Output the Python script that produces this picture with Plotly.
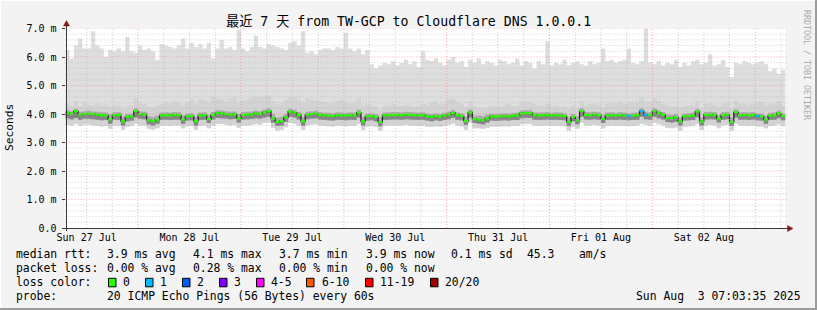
import plotly.graph_objects as go
from datetime import datetime, timedelta

W, H = 817, 310

# ---------------- data (hourly bins, ms) ----------------
view_start = datetime(2025, 7, 27, 7, 3, 35)
view_end = datetime(2025, 8, 3, 7, 3, 35)
bin_start = datetime(2025, 7, 27, 7, 0, 0)

median_ms = [
    4.05, 4.02, 4.10, 3.98, 4.00, 4.01, 4.00, 3.98, 3.96, 3.95, 3.80, 3.96,
    3.97, 3.74, 3.90, 3.92, 4.10, 4.00, 3.99, 3.78, 3.75, 3.80, 3.95, 3.96,
    3.95, 3.97, 3.96, 3.80, 3.92, 3.93, 3.75, 3.95, 3.96, 3.82, 3.97, 4.03,
    4.02, 4.00, 3.98, 3.99, 3.85, 3.97, 3.98, 3.99, 4.02, 4.00, 4.06, 4.10,
    3.85, 3.72, 3.75, 3.88, 4.08, 4.05, 3.97, 3.75, 3.98, 4.00, 4.01, 3.97,
    3.95, 3.94, 3.93, 3.96, 3.95, 3.94, 3.96, 3.95, 4.05, 3.74, 3.92, 3.93,
    3.90, 3.72, 3.95, 3.96, 3.97, 3.97, 3.96, 3.98, 3.97, 3.96, 3.95, 3.96,
    3.92, 3.90, 3.93, 3.91, 3.94, 3.98, 4.04, 3.96, 3.93, 3.76, 4.06, 3.82,
    3.80, 3.78, 3.85, 3.92, 3.91, 3.92, 3.93, 3.92, 3.94, 3.95, 4.02, 4.04,
    4.03, 3.96, 3.95, 3.96, 3.97, 3.94, 3.96, 3.95, 3.93, 3.72, 3.90, 3.78,
    4.10, 3.97, 3.96, 3.98, 3.96, 3.82, 3.95, 3.96, 3.94, 3.97, 3.95, 3.93,
    3.94, 3.96, 4.10, 3.98, 3.96, 4.10, 4.02, 3.97, 3.86, 3.85, 3.88, 3.74,
    3.92, 3.93, 3.95, 4.08, 3.74, 3.97, 3.98, 3.97, 3.84, 3.96, 3.98, 3.72,
    4.07, 3.96, 3.97, 3.95, 3.97, 3.93, 3.92, 3.80, 3.94, 3.96, 4.02, 3.93,
]

max_ms = [
    6.25, 5.95, 6.40, 6.65, 6.30, 6.30, 6.90, 6.40, 6.30, 6.00, 6.25, 6.20,
    6.30, 6.20, 6.70, 6.20, 6.15, 6.40, 6.25, 6.30, 6.20, 5.90, 6.45, 6.40,
    6.35, 6.30, 6.40, 6.65, 6.30, 6.50, 6.35, 6.45, 6.30, 6.50, 5.95, 6.30,
    6.60, 6.30, 6.35, 6.25, 6.95, 6.30, 6.20, 6.35, 6.75, 6.35, 6.30, 6.45,
    6.40, 6.35, 6.30, 6.25, 6.50, 6.55, 6.40, 6.90, 6.15, 6.20, 6.10, 6.25,
    6.30, 6.30, 6.25, 6.35, 6.30, 6.85, 6.30, 6.20, 6.30, 6.10, 6.25, 5.75,
    5.60, 5.70, 5.80, 5.75, 5.85, 5.70, 5.80, 5.90, 5.75, 5.85, 5.65, 6.20,
    5.90, 5.85, 5.95, 5.80, 5.70, 5.90, 6.00, 5.80, 5.85, 5.65, 5.90, 5.80,
    5.95, 5.75, 5.85, 5.80, 5.70, 5.90, 5.85, 5.75, 5.80, 5.95, 5.70, 5.85,
    5.80, 5.60, 5.85, 5.75, 6.55, 5.70, 5.80, 5.75, 5.90, 5.70, 5.80, 5.85,
    5.75, 5.70, 5.85, 5.75, 5.80, 6.30, 5.85, 5.90, 5.80, 5.85, 5.90, 6.30,
    5.80, 5.75, 5.85, 7.00, 5.80, 5.75, 5.85, 5.70, 5.80, 5.75, 5.90, 5.65,
    5.80, 5.70, 5.85, 5.90, 5.75, 5.80, 6.10, 5.70, 5.75, 5.90, 5.65, 5.30,
    5.80, 5.75, 5.85, 5.80, 5.75, 5.80, 5.85, 5.75, 5.50, 5.60, 5.40, 5.55,
]

hi_ms = [
    4.35, 4.30, 4.45, 4.28, 4.40, 4.32, 4.30, 4.38, 4.28, 4.33, 4.25, 4.30,
    4.30, 4.20, 4.28, 4.32, 4.55, 4.40, 4.35, 4.25, 4.22, 4.30, 4.35, 4.40,
    4.38, 4.45, 4.40, 4.30, 4.42, 4.50, 4.35, 4.55, 4.48, 4.40, 4.60, 4.55,
    4.50, 4.45, 4.55, 4.60, 4.40, 4.48, 4.52, 4.55, 4.60, 4.58, 4.62, 4.65,
    4.45, 4.35, 4.40, 4.50, 4.60, 4.58, 4.50, 4.40, 4.55, 4.50, 4.48, 4.45,
    4.42, 4.38, 4.40, 4.45, 4.50, 4.42, 4.38, 4.40, 4.55, 4.30, 4.35, 4.30,
    4.25, 4.15, 4.30, 4.28, 4.35, 4.30, 4.28, 4.32, 4.30, 4.25, 4.28, 4.35,
    4.30, 4.40, 4.45, 4.35, 4.38, 4.50, 4.55, 4.40, 4.35, 4.25, 4.45, 4.28,
    4.22, 4.20, 4.25, 4.30, 4.28, 4.25, 4.30, 4.35, 4.28, 4.30, 4.40, 4.42,
    4.40, 4.35, 4.30, 4.32, 4.35, 4.28, 4.30, 4.25, 4.28, 4.20, 4.30, 4.22,
    4.45, 4.30, 4.35, 4.38, 4.32, 4.25, 4.35, 4.40, 4.38, 4.45, 4.35, 4.40,
    4.40, 4.45, 4.60, 4.42, 4.40, 4.55, 4.45, 4.35, 4.30, 4.25, 4.28, 4.22,
    4.28, 4.30, 4.32, 4.45, 4.20, 4.35, 4.38, 4.32, 4.25, 4.35, 4.40, 4.20,
    4.45, 4.35, 4.38, 4.30, 4.35, 4.40, 4.42, 4.30, 4.35, 4.38, 4.45, 4.30,
]

q3_ms = [
    4.14, 4.10, 4.18, 4.08, 4.10, 4.12, 4.09, 4.08, 4.06, 4.05, 3.98, 4.06,
    4.07, 3.90, 4.00, 4.02, 4.20, 4.10, 4.08, 3.92, 3.90, 3.95, 4.05, 4.06,
    4.05, 4.07, 4.06, 3.95, 4.02, 4.03, 3.90, 4.05, 4.06, 3.96, 4.07, 4.13,
    4.12, 4.10, 4.08, 4.09, 4.00, 4.07, 4.08, 4.09, 4.12, 4.10, 4.16, 4.20,
    4.00, 3.88, 3.90, 4.00, 4.18, 4.15, 4.07, 3.90, 4.08, 4.10, 4.11, 4.07,
    4.05, 4.04, 4.03, 4.06, 4.05, 4.04, 4.06, 4.05, 4.15, 3.90, 4.02, 4.03,
    4.00, 3.88, 4.05, 4.06, 4.07, 4.07, 4.06, 4.08, 4.07, 4.06, 4.05, 4.06,
    4.02, 4.00, 4.03, 4.01, 4.04, 4.08, 4.14, 4.06, 4.03, 3.90, 4.16, 3.95,
    3.95, 3.92, 3.98, 4.02, 4.01, 4.02, 4.03, 4.02, 4.04, 4.05, 4.12, 4.14,
    4.13, 4.06, 4.05, 4.06, 4.07, 4.04, 4.06, 4.05, 4.03, 3.88, 4.00, 3.92,
    4.20, 4.07, 4.06, 4.08, 4.06, 3.95, 4.05, 4.06, 4.04, 4.07, 4.05, 4.03,
    4.04, 4.06, 4.20, 4.08, 4.06, 4.20, 4.12, 4.07, 3.98, 3.97, 4.00, 3.88,
    4.02, 4.03, 4.05, 4.18, 3.88, 4.07, 4.08, 4.07, 3.96, 4.06, 4.08, 3.88,
    4.17, 4.06, 4.07, 4.05, 4.07, 4.03, 4.02, 3.93, 4.04, 4.06, 4.12, 4.03,
]

q1_ms = [
    3.85, 3.82, 3.86, 3.80, 3.84, 3.83, 3.82, 3.80, 3.78, 3.79, 3.66, 3.80,
    3.80, 3.60, 3.75, 3.77, 3.88, 3.83, 3.82, 3.64, 3.60, 3.66, 3.79, 3.80,
    3.79, 3.80, 3.80, 3.66, 3.77, 3.78, 3.60, 3.79, 3.80, 3.68, 3.81, 3.86,
    3.85, 3.84, 3.82, 3.83, 3.70, 3.81, 3.82, 3.83, 3.85, 3.84, 3.88, 3.90,
    3.70, 3.58, 3.60, 3.73, 3.90, 3.88, 3.81, 3.60, 3.82, 3.84, 3.85, 3.81,
    3.79, 3.78, 3.77, 3.80, 3.79, 3.78, 3.80, 3.79, 3.88, 3.60, 3.77, 3.78,
    3.75, 3.57, 3.79, 3.80, 3.81, 3.81, 3.80, 3.82, 3.81, 3.80, 3.79, 3.80,
    3.77, 3.75, 3.78, 3.76, 3.79, 3.82, 3.87, 3.80, 3.78, 3.62, 3.88, 3.68,
    3.66, 3.64, 3.70, 3.77, 3.76, 3.77, 3.78, 3.77, 3.79, 3.79, 3.85, 3.87,
    3.86, 3.80, 3.79, 3.80, 3.81, 3.79, 3.80, 3.79, 3.78, 3.58, 3.75, 3.64,
    3.90, 3.81, 3.80, 3.82, 3.80, 3.68, 3.79, 3.80, 3.79, 3.81, 3.79, 3.78,
    3.79, 3.80, 3.90, 3.82, 3.80, 3.90, 3.85, 3.81, 3.72, 3.70, 3.73, 3.60,
    3.77, 3.78, 3.79, 3.89, 3.60, 3.81, 3.82, 3.81, 3.70, 3.80, 3.82, 3.58,
    3.88, 3.80, 3.81, 3.79, 3.81, 3.78, 3.77, 3.66, 3.79, 3.80, 3.85, 3.78,
]

lo_ms = [
    3.62, 3.60, 3.66, 3.58, 3.62, 3.63, 3.60, 3.59, 3.56, 3.58, 3.48, 3.60,
    3.58, 3.45, 3.55, 3.58, 3.65, 3.60, 3.60, 3.48, 3.45, 3.50, 3.58, 3.60,
    3.58, 3.60, 3.60, 3.50, 3.57, 3.58, 3.45, 3.58, 3.60, 3.50, 3.60, 3.65,
    3.65, 3.63, 3.60, 3.62, 3.52, 3.60, 3.60, 3.62, 3.65, 3.63, 3.68, 3.70,
    3.52, 3.42, 3.45, 3.55, 3.68, 3.66, 3.60, 3.45, 3.60, 3.63, 3.64, 3.60,
    3.58, 3.57, 3.56, 3.60, 3.58, 3.57, 3.60, 3.58, 3.66, 3.44, 3.56, 3.57,
    3.55, 3.42, 3.58, 3.60, 3.60, 3.60, 3.60, 3.62, 3.60, 3.60, 3.58, 3.60,
    3.56, 3.55, 3.57, 3.55, 3.58, 3.62, 3.66, 3.60, 3.57, 3.45, 3.68, 3.50,
    3.50, 3.48, 3.52, 3.56, 3.55, 3.56, 3.57, 3.56, 3.58, 3.58, 3.64, 3.66,
    3.65, 3.60, 3.58, 3.60, 3.60, 3.58, 3.60, 3.58, 3.57, 3.42, 3.55, 3.48,
    3.68, 3.60, 3.60, 3.62, 3.60, 3.50, 3.58, 3.60, 3.58, 3.60, 3.58, 3.57,
    3.58, 3.60, 3.66, 3.62, 3.60, 3.68, 3.64, 3.60, 3.52, 3.50, 3.53, 3.42,
    3.56, 3.57, 3.58, 3.66, 3.44, 3.60, 3.62, 3.60, 3.50, 3.60, 3.62, 3.42,
    3.66, 3.60, 3.60, 3.58, 3.60, 3.57, 3.56, 3.50, 3.58, 3.60, 3.64, 3.57,
]

# hours (bin index) with packet loss and number of lost pings
loss_hours = [131, 134, 135, 161]
loss_counts = [1, 1, 1, 1]

ytick_vals = [0, 1, 2, 3, 4, 5, 6, 7]
ytick_text = ["0.0", "1.0 m", "2.0 m", "3.0 m", "4.0 m", "5.0 m", "6.0 m", "7.0 m"]
day_labels = ["Sun 27 Jul", "Mon 28 Jul", "Tue 29 Jul", "Wed 30 Jul",
              "Thu 31 Jul", "Fri 01 Aug", "Sat 02 Aug"]

loss_labels = ["0", "1", "2", "3", "4-5", "6-10", "11-19", "20/20"]
loss_colors = ["#26ff00", "#00b8ff", "#0059ff", "#7e00ff", "#ff00ff",
               "#ff5500", "#ff0000", "#a10000"]

title_text = "最近 7 天 from TW-GCP to Cloudflare DNS 1.0.0.1"
stat_lines = [
    ["median rtt:", "3.9 ms avg", "4.1 ms max", "3.7 ms min", "3.9 ms now",
     "0.1 ms sd", "45.3", "am/s"],
    ["packet loss:", "0.00 % avg", "0.28 % max", "0.00 % min", "0.00 % now"],
]
probe_text = ["probe:", "20 ICMP Echo Pings (56 Bytes) every 60s"]
stamp_text = "Sun Aug\u00a0\u00a03 07:03:35 2025"

# ---------------- layout helpers ----------------
FONT = "DejaVu Sans Mono, Noto Sans CJK SC, monospace"
PL, PR, PT, PB = 65.5, 785.5, 28.5, 228.0


def fx(x):
    return x / W


def fy(y):
    return 1 - y / H


n = len(median_ms)
times = [bin_start + timedelta(hours=i) for i in range(n + 1)]


def stepped(vals):
    return list(vals) + [vals[-1]]


fig = go.Figure()


def band(lower, upper, color):
    fig.add_trace(go.Scatter(x=times, y=stepped(lower), mode="lines",
                             line=dict(width=0, shape="hv"), hoverinfo="skip",
                             showlegend=False))
    fig.add_trace(go.Scatter(x=times, y=stepped(upper), mode="lines",
                             line=dict(width=0, shape="hv"), fill="tonexty",
                             fillcolor=color, hoverinfo="skip", showlegend=False))


band(lo_ms, max_ms, "#dedede")
band(lo_ms, hi_ms, "#d3d3d3")
band(q1_ms, q3_ms, "#ababab")
band(q1_ms, median_ms, "#858585")

# dark step line under the coloured median
fig.add_trace(go.Scatter(x=times, y=stepped(median_ms), mode="lines",
                         line=dict(width=1.2, shape="hv", color="#1a1a1a"),
                         hoverinfo="skip", showlegend=False))

loss = [0] * n
for h, c in zip(loss_hours, loss_counts):
    loss[h] = c


def loss_color(c):
    if c == 0:
        return loss_colors[0]
    if c == 1:
        return loss_colors[1]
    if c == 2:
        return loss_colors[2]
    if c == 3:
        return loss_colors[3]
    if c <= 5:
        return loss_colors[4]
    if c <= 10:
        return loss_colors[5]
    if c <= 19:
        return loss_colors[6]
    return loss_colors[7]


segs = {}
for i in range(n):
    col = loss_color(loss[i])
    xs, ys = segs.setdefault(col, ([], []))
    xs += [times[i], times[i + 1], None]
    ys += [median_ms[i], median_ms[i], None]
for col, (xs, ys) in segs.items():
    fig.add_trace(go.Scatter(x=xs, y=ys, mode="lines",
                             line=dict(width=2.2, color=col),
                             hoverinfo="skip", showlegend=False))

shapes = []
GRID_MINOR = "rgba(175,175,175,0.6)"
GRID_MAJOR = "rgba(240,120,120,0.6)"
# horizontal grid
for k in range(1, 36):
    v = k * 0.2
    major = (k % 5 == 0)
    shapes.append(dict(type="line", xref="paper", yref="y",
                       x0=fx(PL), x1=fx(PR + 3), y0=v, y1=v, layer="above",
                       line=dict(color=GRID_MAJOR if major else GRID_MINOR,
                                 width=1, dash="1px,2px")))
# vertical grid (every 6 h, red at midnight)
g = datetime(2025, 7, 27, 12, 0, 0)
while g < view_end:
    major = (g.hour == 0)
    shapes.append(dict(type="line", xref="x", yref="paper",
                       x0=g, x1=g, y0=fy(PB), y1=fy(PT), layer="above",
                       line=dict(color=GRID_MAJOR if major else GRID_MINOR,
                                 width=1, dash="1px,2px")))
    g += timedelta(hours=6)

# axis lines and arrows
AX = "#3a3a3a"
shapes.append(dict(type="line", xref="paper", yref="paper", x0=fx(62), x1=fx(789),
                   y0=fy(228.5), y1=fy(228.5), line=dict(color=AX, width=1), layer="above"))
shapes.append(dict(type="line", xref="paper", yref="paper", x0=fx(66.5), x1=fx(66.5),
                   y0=fy(231), y1=fy(24), line=dict(color=AX, width=1), layer="above"))
ARW = "#7f1d1d"
shapes.append(dict(type="path", xref="paper", yref="paper",
                   path=f"M {fx(63.5)},{fy(26)} L {fx(69.5)},{fy(26)} L {fx(66.5)},{fy(20.5)} Z",
                   fillcolor=ARW, line=dict(color=ARW, width=0.5), layer="above"))
shapes.append(dict(type="path", xref="paper", yref="paper",
                   path=f"M {fx(787.5)},{fy(225.5)} L {fx(787.5)},{fy(231.5)} L {fx(793)},{fy(228.5)} Z",
                   fillcolor=ARW, line=dict(color=ARW, width=0.5), layer="above"))

# frame of the image (3d-ish edges)
shapes.append(dict(type="line", xref="paper", yref="paper", x0=0, x1=1, y0=fy(0.5), y1=fy(0.5),
                   line=dict(color="#ffffff", width=1)))
shapes.append(dict(type="line", xref="paper", yref="paper", x0=fx(0.5), x1=fx(0.5), y0=0, y1=1,
                   line=dict(color="#ffffff", width=1)))
shapes.append(dict(type="line", xref="paper", yref="paper", x0=0, x1=1, y0=fy(309), y1=fy(309),
                   line=dict(color="#9c9c9c", width=2)))
shapes.append(dict(type="line", xref="paper", yref="paper", x0=fx(816), x1=fx(816), y0=0, y1=1,
                   line=dict(color="#9c9c9c", width=2)))

# loss colour boxes
box_x = [108.5, 145.5, 182.5, 219.5, 256.5, 306.5, 365.5, 430.5]
lab_x = [123.3, 160.0, 196.7, 234.3, 271.0, 321.7, 380.0, 445.0]
for bx, col in zip(box_x, loss_colors):
    shapes.append(dict(type="rect", xref="paper", yref="paper",
                       x0=fx(bx), x1=fx(bx + 7.5), y0=fy(286.8), y1=fy(278.3),
                       fillcolor=col, line=dict(color="#000000", width=1)))

annotations = []


def txt(s, x, y, size=11.4, anchor="left", color="#000000", angle=0, yanchor="middle"):
    annotations.append(dict(text=s, x=fx(x), y=fy(y), xref="paper", yref="paper",
                            xanchor=anchor, yanchor=yanchor, showarrow=False,
                            textangle=angle, borderpad=0, borderwidth=0,
                            font=dict(family=FONT, size=size, color=color)))


txt(title_text, 408.5, 21, size=13.2, anchor="center")
txt("Seconds", 10, 128, size=11.2, anchor="center", angle=-90)
txt("RRDTOOL / TOBI OETIKER", 807, 65, size=8.3, anchor="center", color="#ababab", angle=90)

line_y = [254.3, 268.3, 282.3, 296.0]
stat_x = [16, 107.3, 192.7, 279.3, 366.0, 451.0, 526.7, 579.3]
for row, yy in zip(stat_lines, line_y):
    for s, xx in zip(row, stat_x):
        txt(s, xx, yy)
txt("loss color:", 16, line_y[2])
for lab, xx in zip(loss_labels, lab_x):
    txt(lab, xx, line_y[2])
txt(probe_text[0], 16, line_y[3])
txt(probe_text[1], 107.3, line_y[3])
txt(stamp_text, 800.5, line_y[3], anchor="right")

noon_ticks = [datetime(2025, 7, 27, 12) + timedelta(days=d) for d in range(len(day_labels))]

fig.update_layout(
    template="none",
    width=W, height=H, margin=dict(l=0, r=0, t=0, b=0, pad=0, autoexpand=False),
    paper_bgcolor="#f3f3f3", plot_bgcolor="#ffffff",
    showlegend=False, shapes=shapes, annotations=annotations,
    xaxis=dict(domain=[fx(PL), fx(PR)], range=[view_start, view_end], type="date",
               tickvals=noon_ticks, ticktext=day_labels, showgrid=False, zeroline=False,
               showline=False, ticks="", ticklabelstandoff=2, automargin=False,
               tickfont=dict(family=FONT, size=10, color="#000000"), fixedrange=True),
    yaxis=dict(domain=[fy(PB), fy(PT)], range=[0, 7], tickvals=ytick_vals, ticktext=ytick_text,
               showgrid=False, zeroline=False, showline=False, ticks="outside", ticklen=3,
               tickcolor=AX, ticklabelstandoff=3,
               tickfont=dict(family=FONT, size=10, color="#000000"),
               automargin=False, fixedrange=True),
)

fig.write_html("out.html")
